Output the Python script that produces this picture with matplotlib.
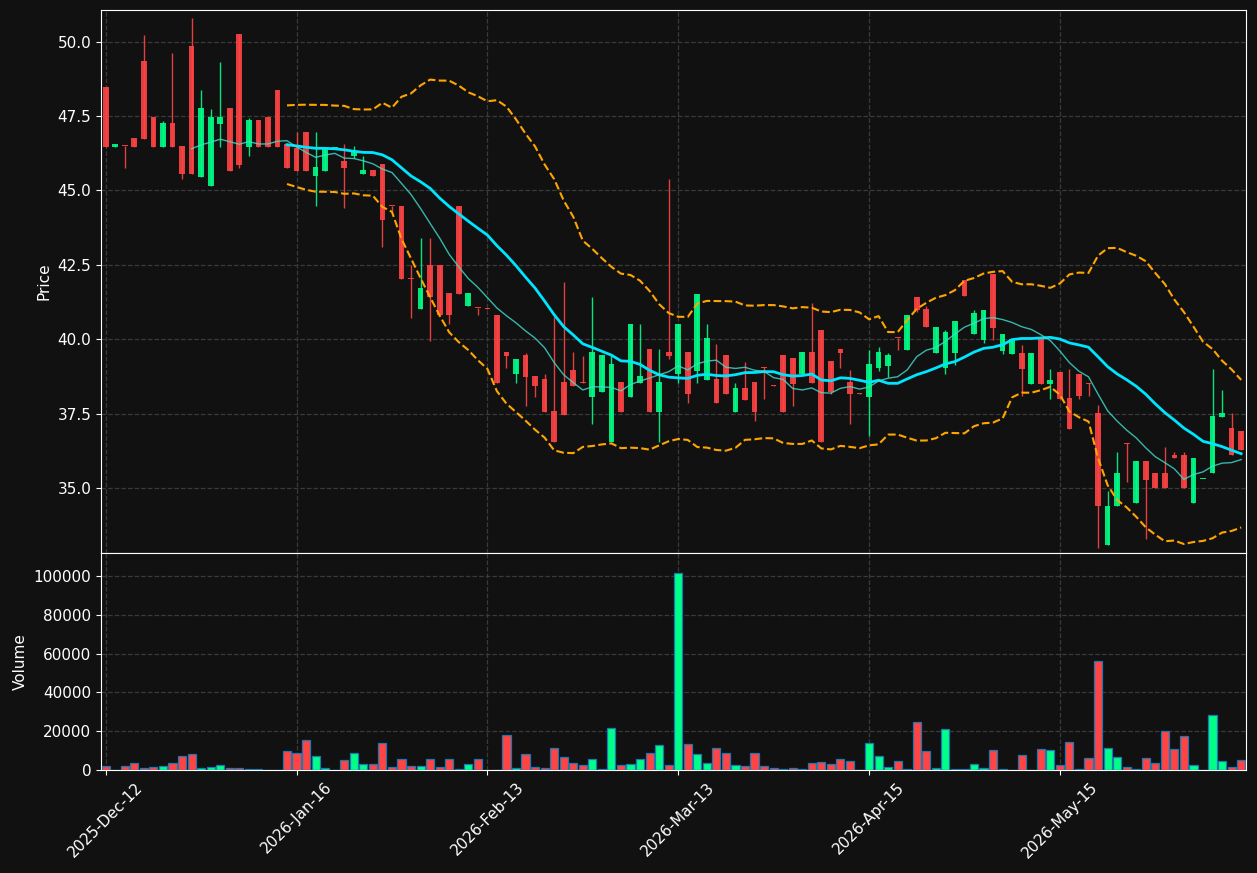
import matplotlib

matplotlib.use("Agg")
import matplotlib.pyplot as plt
import numpy as np
import pandas as pd

# OHLC + volume, one entry per trading day
opens = [
    48.47, 46.47, 46.51, 46.76, 49.34, 47.46, 46.47, 47.26, 46.49, 49.84,
    45.46, 45.16, 47.23, 47.76, 50.25, 46.47, 47.36, 47.46, 48.37, 46.55,
    46.44, 46.97, 45.48, 45.66, 46.43, 46.00, 46.16, 45.56, 45.70, 45.90,
    44.49, 44.49, 42.06, 41.02, 42.51, 42.51, 41.55, 44.49, 41.12, 41.06,
    41.04, 40.83, 39.57, 38.82, 39.46, 38.76, 38.66, 37.59, 38.56, 38.96,
    38.55, 38.07, 38.23, 36.56, 38.56, 38.07, 38.53, 39.66, 37.56, 39.57,
    38.82, 39.56, 38.94, 38.62, 38.66, 39.46, 37.56, 38.36, 38.56, 39.06,
    38.45, 39.46, 39.36, 38.85, 39.56, 40.33, 39.26, 39.66, 38.56, 38.19,
    38.07, 39.05, 39.12, 40.06, 39.63, 41.43, 41.03, 39.54, 39.04, 39.54,
    42.00, 40.17, 39.97, 42.20, 39.60, 39.50, 39.53, 38.50, 40.00, 38.50,
    38.92, 38.02, 38.82, 38.52, 37.51, 33.08, 34.39, 36.51, 34.50, 35.90,
    35.50, 35.50, 36.12, 36.12, 34.50, 35.30, 35.50, 37.40, 37.02, 36.92,
]
highs = [
    48.47, 46.55, 46.51, 46.76, 50.23, 47.46, 47.35, 49.63, 46.49, 50.81,
    48.36, 47.75, 49.33, 47.76, 50.25, 47.45, 47.36, 47.46, 48.37, 46.55,
    46.95, 46.97, 46.97, 46.43, 46.43, 46.56, 46.49, 46.17, 45.70, 45.90,
    44.49, 44.49, 42.50, 43.41, 43.41, 42.51, 41.55, 44.49, 41.55, 41.06,
    41.04, 40.83, 39.57, 39.35, 39.55, 38.76, 38.85, 40.74, 41.93, 39.56,
    39.45, 41.43, 39.46, 39.46, 38.56, 40.53, 40.53, 39.66, 39.66, 45.37,
    40.53, 39.56, 41.53, 40.53, 39.85, 39.46, 38.55, 39.25, 38.56, 39.06,
    38.45, 39.46, 39.36, 39.56, 41.22, 40.33, 39.26, 39.66, 38.96, 38.19,
    39.65, 39.75, 39.55, 40.06, 40.83, 41.43, 41.12, 40.43, 40.33, 40.63,
    42.00, 41.00, 41.00, 42.20, 40.19, 40.00, 39.82, 39.53, 40.00, 39.01,
    38.92, 39.01, 38.82, 38.52, 37.81, 34.89, 36.20, 36.51, 35.90, 35.90,
    35.50, 36.40, 36.20, 36.20, 36.00, 35.30, 39.01, 38.30, 37.51, 36.92,
]
lows = [
    46.47, 46.47, 45.76, 46.47, 46.73, 46.47, 46.47, 46.47, 45.37, 45.56,
    45.46, 45.16, 46.47, 45.65, 45.76, 46.16, 46.47, 46.47, 46.47, 45.75,
    45.65, 45.66, 44.48, 45.66, 46.43, 44.41, 46.08, 45.56, 45.47, 43.09,
    44.31, 42.02, 40.73, 41.02, 39.95, 40.83, 40.53, 41.52, 41.12, 40.83,
    41.02, 38.53, 39.05, 38.53, 37.77, 38.07, 37.56, 36.56, 37.45, 38.43,
    38.54, 37.17, 38.23, 36.56, 37.56, 38.07, 38.53, 37.56, 36.56, 39.35,
    38.55, 37.87, 38.55, 38.62, 37.87, 38.16, 37.56, 37.95, 37.26, 37.98,
    38.44, 37.56, 37.77, 38.85, 38.53, 36.56, 38.16, 39.05, 37.17, 38.18,
    36.75, 38.94, 38.73, 39.65, 39.63, 40.91, 40.40, 39.54, 38.85, 39.15,
    41.47, 40.17, 39.87, 39.98, 39.52, 39.50, 38.11, 38.50, 38.50, 38.01,
    37.99, 36.99, 38.01, 38.10, 32.99, 33.08, 34.39, 35.20, 34.50, 33.29,
    35.00, 35.00, 36.00, 35.00, 34.50, 35.30, 35.50, 37.40, 36.10, 36.29,
]
closes = [
    46.47, 46.55, 46.49, 46.47, 46.73, 46.47, 47.26, 46.47, 45.56, 45.56,
    47.76, 47.47, 47.47, 45.65, 45.86, 47.36, 46.47, 46.47, 46.47, 45.75,
    45.65, 45.66, 45.79, 46.43, 46.43, 45.77, 46.31, 45.70, 45.47, 44.00,
    44.47, 42.02, 42.04, 41.74, 41.43, 40.83, 40.83, 41.52, 41.55, 41.04,
    41.02, 38.53, 39.44, 39.35, 38.72, 38.42, 37.56, 36.56, 37.45, 38.43,
    38.54, 39.56, 39.46, 39.16, 37.56, 40.53, 38.76, 37.56, 38.56, 39.44,
    40.53, 38.16, 41.53, 40.06, 37.87, 38.16, 38.36, 37.95, 37.56, 39.04,
    38.44, 37.56, 38.51, 39.56, 38.53, 36.56, 38.23, 39.55, 38.16, 38.18,
    39.16, 39.56, 39.46, 40.05, 40.83, 41.00, 40.40, 40.43, 40.26, 40.63,
    41.47, 40.90, 41.00, 40.37, 40.19, 40.00, 38.99, 39.53, 38.50, 38.62,
    37.99, 36.99, 38.10, 38.51, 34.39, 34.41, 35.50, 36.50, 35.90, 35.28,
    35.00, 35.00, 36.00, 35.00, 36.00, 35.30, 37.42, 37.51, 36.10, 36.29,
]
volumes = [
    2070, 200, 2070, 3450, 860, 1380, 1900, 3450, 7070, 8100,
    860, 1720, 2410, 860, 860, 350, 350, 150, 150, 9650,
    8620, 15340, 7070, 860, 0, 5000, 8620, 2930, 2930, 13790,
    1380, 5520, 1900, 1900, 5520, 1380, 5520, 350, 2930, 5520,
    0, 0, 17930, 860, 8100, 1380, 860, 11200, 6550, 3450,
    2410, 5520, 350, 21550, 2410, 2930, 5520, 8620, 12760, 2410,
    101700, 13280, 8100, 3450, 11200, 8620, 2410, 1900, 8620, 1900,
    860, 350, 860, 350, 3450, 3970, 2930, 5520, 4480, 0,
    13790, 7070, 1380, 4480, 350, 24660, 9650, 860, 21030, 350,
    350, 2930, 860, 10170, 350, 0, 7590, 0, 10690, 10170,
    2410, 14310, 350, 6030, 56200, 11200, 6550, 1380, 350, 6030,
    3450, 20000, 10690, 17410, 2410, 0, 28280, 4480, 1380, 5000,
]
tick_labels = ["2025-Dec-12", "2026-Jan-16", "2026-Feb-13",
               "2026-Mar-13", "2026-Apr-15", "2026-May-15"]

BG = "#111111"
UP = "#00ff88"
DOWN = "#ff4444"

df = pd.DataFrame({"open": opens, "high": highs, "low": lows,
                   "close": closes, "volume": volumes})
n = len(df)
x = np.arange(n)
up = df["close"] >= df["open"]
colors = np.where(up, UP, DOWN)

sma10 = df["close"].rolling(10).mean()
sma20 = df["close"].rolling(20).mean()
std20 = df["close"].rolling(20).std()
bb_up = sma20 + 2 * std20
bb_lo = sma20 - 2 * std20

fig = plt.figure(figsize=(12.57, 8.73), dpi=100, facecolor=BG)
ax = fig.add_axes([0.0803, 0.3666, 0.9109, 0.6220])
axv = fig.add_axes([0.0803, 0.1180, 0.9109, 0.2486], sharex=ax)

for a in (ax, axv):
    a.set_facecolor(BG)
    for s in a.spines.values():
        s.set_color("white")
    a.tick_params(colors="white", labelsize=11)
    a.grid(True, color="#3a3a3a", linestyle="--", linewidth=0.9)
    a.set_axisbelow(True)

# candles
body_lo = np.minimum(df["open"], df["close"])
body_h = np.maximum((df["close"] - df["open"]).abs(), 0.03)
ax.vlines(x, df["low"], df["high"], colors=colors, linewidth=1, alpha=0.9, zorder=2)
ax.bar(x, body_h, 0.6, bottom=body_lo, color=colors, alpha=0.9, zorder=3)

ax.plot(x, sma20, color="#00e5ff", linewidth=2, zorder=4)
ax.plot(x, sma10, color="#40e0d0", linewidth=1, alpha=0.8, zorder=4)
ax.plot(x, bb_up, color="orange", linestyle="--", linewidth=1.5, zorder=4)
ax.plot(x, bb_lo, color="orange", linestyle="--", linewidth=1.5, zorder=4)

ax.set_ylim(df["low"].min() * 0.995, df["high"].max() * 1.005)
ax.set_ylabel("Price", color="white", fontsize=11)
plt.setp(ax.get_xticklabels(), visible=False)

# volume
axv.bar(x, df["volume"], 0.85, color=colors, edgecolor="#1f77b4", linewidth=0.9, zorder=3)
axv.set_ylim(0, df["volume"].max() * 1.1)
axv.set_ylabel("Volume", color="white", fontsize=11)

ticks = np.arange(0, n, 20)
axv.set_xticks(ticks)
axv.set_xticklabels(tick_labels, rotation=45)
axv.set_xlim(-0.5, n - 0.5)

fig.savefig("out.png", dpi=100, facecolor=BG)
